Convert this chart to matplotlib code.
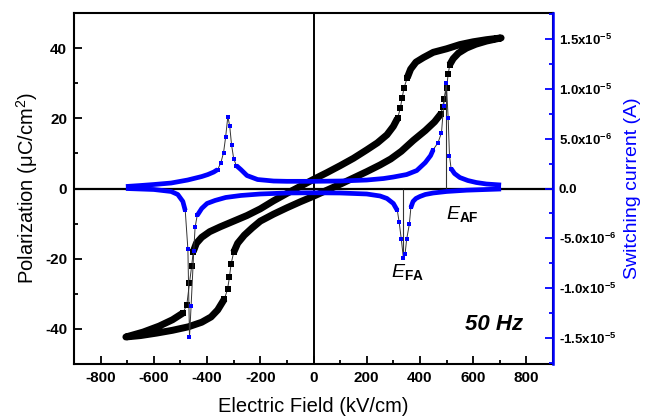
import numpy as np
import matplotlib
matplotlib.use('Agg')
import matplotlib.pyplot as plt
from matplotlib.ticker import MultipleLocator

plt.rcParams['font.family'] = ['Liberation Sans', 'DejaVu Sans']
plt.rcParams['mathtext.fontset'] = 'custom'
plt.rcParams['mathtext.rm'] = 'Liberation Sans'
plt.rcParams['mathtext.it'] = 'Liberation Sans:italic'
plt.rcParams['mathtext.bf'] = 'Liberation Sans:bold'
plt.rcParams['axes.unicode_minus'] = False

# ── P-E loop (kV/cm, uC/cm2), one field cycle split where domains switch ──
# FE tail at negative field: end of falling sweep -> -700 -> rising sweep
fe_neg_E = [-491, -530, -580, -640, -705, -650, -590, -530, -470, -420, -385, -360, -335]
fe_neg_P = [-35.5, -37.4, -39.2, -40.9, -42.3, -41.9, -41.2, -40.4, -39.4, -38.1, -36.6, -34.6, -31.5]
# FE -> AFE switching, rising field
sw_up_neg_E = [-335, -323, -316, -310, -300]
sw_up_neg_P = [-31.5, -28.7, -25.3, -21.6, -18.2]
# AFE branch, rising field
afe_up_E = [-300, -285, -260, -230, -200, -150, -100, -50, 0, 50, 100, 150, 200, 250, 290, 330, 375, 420, 455, 478]
afe_up_P = [-18.2, -15.6, -13.3, -11.2, -9.3, -7.3, -5.5, -3.8, -2.2, -0.5, 1.2, 3.0, 4.8, 6.7, 8.4, 10.6, 13.7, 16.5, 19.0, 21.2]
# AFE -> FE switching, rising field
sw_up_pos_E = [478, 485, 491, 500, 506, 512]
sw_up_pos_P = [21.2, 23.2, 25.4, 28.7, 32.5, 35.3]
# FE top: rising to +700 and falling back
fe_pos_E = [512, 525, 545, 575, 610, 650, 705, 650, 600, 550, 500, 450, 413, 385, 365, 352]
fe_pos_P = [35.3, 37.0, 38.6, 40.0, 41.1, 42.0, 42.9, 42.4, 41.8, 41.0, 39.8, 38.8, 37.3, 36.0, 34.0, 31.5]
# FE -> AFE switching, falling field
sw_down_pos_E = [352, 340, 333, 326, 316]
sw_down_pos_P = [31.5, 28.6, 25.8, 22.8, 20.0]
# AFE branch, falling field
afe_down_E = [316, 300, 276, 240, 200, 150, 100, 50, 0, -50, -100, -150, -200, -250, -300, -350, -390, -420, -440, -452]
afe_down_P = [20.0, 17.7, 15.3, 13.0, 11.0, 8.6, 6.5, 4.5, 2.6, 0.6, -1.4, -3.5, -5.8, -7.7, -9.3, -10.9, -12.3, -13.9, -15.6, -18.0]
# AFE -> FE switching, falling field
sw_down_neg_E = [-452, -458, -466, -476, -491]
sw_down_neg_P = [-18.0, -22.2, -26.9, -33.1, -35.5]

# ── switching current (uA), rising field ──
cur_up_base1_E = [-705, -650, -600, -535, -473, -420, -397, -375, -360]
cur_up_base1_I = [0.2, 0.3, 0.4, 0.55, 0.85, 1.2, 1.4, 1.65, 1.9]
cur_up_peak1_E = [-360, -348, -338, -330, -322, -315, -308, -300, -290]
cur_up_peak1_I = [1.9, 2.6, 3.6, 5.2, 7.2, 6.3, 4.4, 3.0, 2.3]
cur_up_base2_E = [-290, -273, -250, -210, -150, -100, 0, 100, 200, 263, 300, 350, 388, 420, 440, 450]
cur_up_base2_I = [2.3, 1.9, 1.3, 0.9, 0.75, 0.72, 0.72, 0.75, 0.85, 1.0, 1.15, 1.4, 1.8, 2.6, 3.3, 3.9]
cur_up_peak2_E = [450, 468, 481, 489, 499, 506, 511, 517]
cur_up_peak2_I = [3.9, 4.6, 5.6, 8.3, 10.6, 7.1, 3.3, 2.0]
cur_up_base3_E = [517, 530, 550, 580, 612, 650, 705]
cur_up_base3_I = [2.0, 1.5, 1.1, 0.8, 0.6, 0.45, 0.35]

# ── switching current (uA), falling field ──
cur_dn_base1_E = [705, 650, 575, 500, 450, 420, 400, 385, 374, 366]
cur_dn_base1_I = [-0.05, -0.1, -0.17, -0.3, -0.45, -0.6, -0.8, -1.0, -1.3, -1.9]
cur_dn_peak1_E = [366, 360, 350, 344, 338, 330, 322, 315]
cur_dn_peak1_I = [-1.9, -3.6, -5.1, -6.6, -7.0, -5.1, -3.4, -2.2]
cur_dn_base2_E = [315, 300, 276, 250, 200, 100, 0, -100, -200, -273, -330, -370, -400, -420, -437]
cur_dn_base2_I = [-2.2, -1.5, -1.0, -0.75, -0.55, -0.45, -0.43, -0.45, -0.55, -0.7, -0.9, -1.2, -1.5, -2.0, -2.7]
cur_dn_peak2_E = [-437, -445, -450, -460, -466, -472, -482]
cur_dn_peak2_I = [-2.7, -3.9, -6.3, -11.8, -14.9, -6.1, -2.2]
cur_dn_base3_E = [-482, -491, -510, -535, -600, -705]
cur_dn_base3_I = [-2.2, -1.3, -0.6, -0.3, -0.1, 0.0]

E_AF = 497
E_FA = 338

x_ticks = list(range(-800, 801, 200))
y_ticks = [-40, -20, 0, 20, 40]
i_ticks = [-1.5e-5, -1.0e-5, -5.0e-6, 0.0, 5.0e-6, 1.0e-5, 1.5e-5]
i_labels = [r'-1.5x10$^{\mathbf{-5}}$', r'-1.0x10$^{\mathbf{-5}}$', r'-5.0x10$^{\mathbf{-6}}$', '0.0',
            r'5.0x10$^{\mathbf{-6}}$', r'1.0x10$^{\mathbf{-5}}$', r'1.5x10$^{\mathbf{-5}}$']

BLUE = '#0000ff'
UA = 1e-6


def band(axis, E, V, color, width):
    axis.plot(E, V, color=color, lw=width, solid_joinstyle='round', solid_capstyle='butt')


def steps(axis, E, V, color, size):
    axis.plot(E, V, color='#333333', lw=0.7)
    axis.plot(E, V, ls='none', marker='s', ms=size, color=color, mew=0)


fig = plt.figure(figsize=(6.45, 4.2), dpi=100)
ax = fig.add_axes([74 / 645, 1 - 364 / 420, 479 / 645, 351 / 420])
ax2 = ax.twinx()

ax.set_xlim(-900, 900)
ax.set_ylim(-50, 50)
ax2.set_ylim(-1.76e-5, 1.76e-5)

ax.axhline(0, color='k', lw=1.6, zorder=1)
ax.axvline(0, color='k', lw=1.4, zorder=1)

# black loop
for E, P in [(fe_neg_E, fe_neg_P), (afe_up_E, afe_up_P), (fe_pos_E, fe_pos_P), (afe_down_E, afe_down_P)]:
    band(ax, E, P, 'k', 5.0)
for E, P in [(sw_up_neg_E, sw_up_neg_P), (sw_up_pos_E, sw_up_pos_P),
             (sw_down_pos_E, sw_down_pos_P), (sw_down_neg_E, sw_down_neg_P)]:
    steps(ax, E, P, 'k', 4.8)

# blue current
bases = [(cur_up_base1_E, cur_up_base1_I), (cur_up_base2_E, cur_up_base2_I), (cur_up_base3_E, cur_up_base3_I),
         (cur_dn_base1_E, cur_dn_base1_I), (cur_dn_base2_E, cur_dn_base2_I), (cur_dn_base3_E, cur_dn_base3_I)]
peaks = [(cur_up_peak1_E, cur_up_peak1_I), (cur_up_peak2_E, cur_up_peak2_I),
         (cur_dn_peak1_E, cur_dn_peak1_I), (cur_dn_peak2_E, cur_dn_peak2_I)]
ax2.vlines(E_AF, 0, max(cur_up_peak2_I) * UA, color='#333333', lw=0.8)
ax2.vlines(E_FA, 0, min(cur_dn_peak1_I) * UA, color='#333333', lw=0.8)
for E, I in bases:
    band(ax2, E, np.array(I) * UA, BLUE, 3.4)
for E, I in peaks:
    steps(ax2, E, np.array(I) * UA, BLUE, 3.2)

# axes styling
ax.set_xticks(x_ticks, [str(t) for t in x_ticks], fontweight='bold', fontsize=11)
ax.set_yticks(y_ticks, [str(t) for t in y_ticks], fontweight='bold', fontsize=11)
ax.xaxis.set_minor_locator(MultipleLocator(100))
ax.yaxis.set_minor_locator(MultipleLocator(10))
ax.tick_params(which='both', direction='in', width=1.3, top=False, right=False)
ax.tick_params(which='major', length=5.5, pad=5)
ax.tick_params(which='minor', length=3)

ax2.set_yticks(i_ticks, i_labels, fontweight='bold', fontsize=9.5)
ax2.yaxis.set_minor_locator(MultipleLocator(2.5e-6))
ax2.tick_params(which='both', direction='in', width=1.3, color=BLUE)
ax2.tick_params(which='major', length=5.5, pad=4)
ax2.tick_params(which='minor', length=3)

for s in ax.spines.values():
    s.set_linewidth(1.5)
ax2.spines['right'].set_color(BLUE)
ax2.spines['right'].set_linewidth(1.8)
for k in ['left', 'top', 'bottom']:
    ax2.spines[k].set_visible(False)

ax.set_xlabel('Electric Field (kV/cm)', fontsize=14.5)
ax.set_ylabel(r'Polarization (μC/cm$^2$)', fontsize=14.5)
ax2.set_ylabel('Switching current (A)', fontsize=14, color=BLUE)
ax.xaxis.set_label_coords(0.5, -0.095)
ax.yaxis.set_label_coords(-0.07, 0.5)
ax2.yaxis.set_label_coords(1.148, 0.5)

ax.text(497, -8.6, r'$\mathit{E}_{\mathbf{AF}}$', fontsize=14, ha='left', va='baseline')
ax.text(292, -25.3, r'$\mathit{E}_{\mathbf{FA}}$', fontsize=14, ha='left', va='baseline')
ax.text(680, -38.8, '50 Hz', fontsize=16, fontweight='bold', fontstyle='italic', ha='center', va='center')

fig.savefig('out.png', dpi=100, facecolor='white')
